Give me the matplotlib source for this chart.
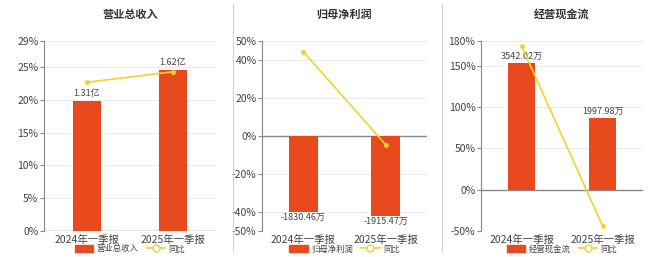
import numpy as np
import matplotlib
matplotlib.use("Agg")
import matplotlib.pyplot as plt
from matplotlib.patches import Patch
from matplotlib.lines import Line2D

plt.rcParams['font.family'] = ['Noto Sans CJK SC', 'DejaVu Sans']

periods = ["2024年一季报", "2025年一季报"]

titles = ["营业总收入", "归母净利润", "经营现金流"]
bar_names = ["营业总收入", "归母净利润", "经营现金流"]

revenue = [1.31, 1.62]
revenue_labels = ["1.31亿", "1.62亿"]
revenue_yoy = [22.7, 24.3]

profit = [-1830.46, -1915.47]
profit_labels = ["-1830.46万", "-1915.47万"]
profit_yoy = [44.4, -4.6]

cashflow = [3542.02, 1997.98]
cashflow_labels = ["3542.02万", "1997.98万"]
cashflow_yoy = [174.0, -43.6]

BAR = "#e8491d"
LINE = "#f2d22e"
GRID = "#ececec"
AX = "#888888"
TXT = "#444444"

W, H = 660, 257
fig = plt.figure(figsize=(W / 100, H / 100), dpi=100)

# pixel boxes for the three plot areas: left, right
boxes = [(44, 216), (262, 427), (481, 643)]
top_px, bot_px = 41, 231

panels = [
    dict(bars=revenue, labels=revenue_labels, yoy=revenue_yoy,
         ylim=(0, 29), ticks=[0, 5, 10, 15, 20, 25, 29],
         blim=(0, 1.62 * 29 / 24.6), width=0.32),
    dict(bars=profit, labels=profit_labels, yoy=profit_yoy,
         ylim=(-50, 50), ticks=[-50, -40, -20, 0, 20, 40, 50],
         blim=(-1830.46 * 50 / 40, 1830.46 * 50 / 40), width=0.35),
    dict(bars=cashflow, labels=cashflow_labels, yoy=cashflow_yoy,
         ylim=(-50, 180), ticks=[-50, 0, 50, 100, 150, 180],
         blim=(-50 * 3542.02 / 153, 180 * 3542.02 / 153), width=0.33),
]

x = np.arange(len(periods))

for i, (p, (l, r)) in enumerate(zip(panels, boxes)):
    rect = [l / W, 1 - bot_px / H, (r - l) / W, (bot_px - top_px) / H]
    ax = fig.add_axes(rect)
    ax.set_ylim(*p['ylim'])
    ax.set_xlim(-0.5, 1.5)
    ax.set_yticks(p['ticks'])
    ax.set_yticklabels(["%d%%" % t for t in p['ticks']])
    for t in p['ticks']:
        ax.axhline(t, color=GRID, lw=0.7, zorder=0)
    for s in ["top", "right", "bottom"]:
        ax.spines[s].set_visible(False)
    ax.spines["left"].set_color(AX)
    ax.spines["left"].set_linewidth(0.8)
    ax.axhline(0, color=AX, lw=1.0, zorder=1)
    ax.tick_params(axis='y', length=3, color=AX, labelsize=7.5, labelcolor=TXT, pad=1)
    ax.tick_params(axis='x', length=0, labelsize=7.5, labelcolor=TXT, pad=3)
    ax.set_xticks(x)
    ax.set_xticklabels(periods)

    ax2 = ax.twinx()
    ax2.set_ylim(*p['blim'])
    ax2.set_xlim(-0.5, 1.5)
    ax2.axis('off')
    bars = ax2.bar(x, p['bars'], width=p['width'], color=BAR, zorder=2)
    for b, lab, v in zip(bars, p['labels'], p['bars']):
        if v >= 0:
            ax2.annotate(lab, (b.get_x() + b.get_width() / 2, v), xytext=(0, 2),
                         textcoords="offset points", ha='center', va='bottom',
                         fontsize=6.5, color=TXT)
        else:
            ax2.annotate(lab, (b.get_x() + b.get_width() / 2, v), xytext=(0, -1),
                         textcoords="offset points", ha='center', va='top',
                         fontsize=6.5, color=TXT)

    ax3 = ax.twinx()
    ax3.set_ylim(*p['ylim'])
    ax3.set_xlim(-0.5, 1.5)
    ax3.axis('off')
    ax3.plot(x, p['yoy'], color=LINE, lw=1.2, marker='o', markersize=2.5, zorder=3)

    cx = ((l + r) / 2) / W
    fig.text(cx, 1 - 14 / H, titles[i], ha='center', va='center', fontsize=8,
             fontweight='bold', color="#333333")

    handles = [Patch(facecolor=BAR, edgecolor=BAR),
               Line2D([0], [0], color=LINE, lw=1.2, marker='o', markersize=5,
                      markerfacecolor='white', markeredgecolor=LINE)]
    fig.legend(handles, [bar_names[i], "同比"], loc='center', bbox_to_anchor=(cx, 1 - 249 / H),
               ncol=2, frameon=False, fontsize=6, handlelength=2.2, handleheight=0.9,
               columnspacing=1.0, handletextpad=0.4, labelcolor=TXT)

# vertical separators between panels
for sx in (233, 442):
    fig.add_artist(Line2D([sx / W, sx / W], [1 - 252 / H, 1 - 4 / H], color="#d0d0d0", lw=0.8))

fig.savefig("out.png", dpi=100)
